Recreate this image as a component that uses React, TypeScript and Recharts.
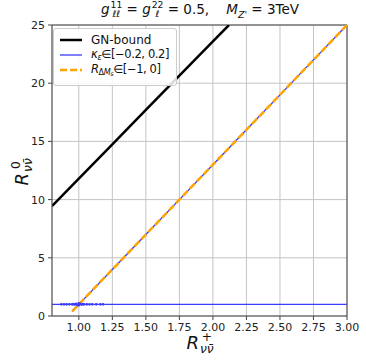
import React from "react";
import {
  ComposedChart,
  Line,
  Scatter,
  XAxis,
  YAxis,
  CartesianGrid,
  ReferenceLine,
} from "recharts";

// GN-bound (black)
const gnX = [0.8, 1.0, 1.25, 1.5, 1.75, 2.0, 2.12];
const gnY = [9.45, 11.8, 14.75, 17.7, 20.65, 23.6, 25.0];

// kappa_eps scan: diagonal branch and flat branch at R0 = 1
const kapDiagX = [0.95, 1.0, 1.25, 1.5, 1.75, 2.0, 2.25, 2.5, 2.75, 3.0];
const kapDiagY = [0.4, 1.0, 4.0, 7.0, 10.0, 13.0, 16.0, 19.0, 22.0, 25.0];
const kapFlatX = [0.8, 3.0];
const kapFlatY = [1.0, 1.0];

// scattered kappa points near (1, 1)
const dotX = [0.87, 0.89, 0.91, 0.93, 0.95, 0.96, 0.97, 0.98, 0.99, 1.0, 1.0, 1.01, 1.02, 1.03, 1.04, 1.06, 1.08, 1.1, 1.13, 1.16, 1.18];
const dotY = [1.0, 1.0, 1.0, 1.0, 1.0, 1.02, 0.98, 1.05, 0.95, 1.1, 0.92, 1.05, 0.98, 1.02, 1.0, 1.0, 1.0, 1.0, 1.0, 1.0, 1.0];

// R_DeltaMs scan (orange dashed)
const rdmX = [0.95, 1.0, 1.5, 2.0, 2.5, 3.0];
const rdmY = [0.4, 1.0, 7.0, 13.0, 19.0, 25.0];

const xTicks = [1.0, 1.25, 1.5, 1.75, 2.0, 2.25, 2.5, 2.75, 3.0];
const yTicks = [0, 5, 10, 15, 20, 25];

const zip = (xs: number[], ys: number[]) => xs.map((x, i) => ({ x, y: ys[i] }));

const FONT = "'DejaVu Sans', sans-serif";
const BLUE = "#3b3bff";
const ORANGE = "#ffa500";

const Stack = ({ sup, sub }: { sup: string; sub: string }) => (
  <span
    style={{
      display: "inline-flex",
      flexDirection: "column",
      fontSize: "0.68em",
      lineHeight: 0.95,
      verticalAlign: "middle",
      fontStyle: "normal",
      marginLeft: 1,
    }}
  >
    <span>{sup}</span>
    <span style={{ fontStyle: "italic" }}>{sub}</span>
  </span>
);

function LegendBox() {
  const row = (sample: React.ReactNode, label: React.ReactNode) => (
    <div style={{ display: "flex", alignItems: "center", height: 15.3, whiteSpace: "nowrap" }}>
      <svg width={24} height={6} style={{ marginRight: 7, flex: "none" }}>{sample}</svg>
      <span style={{ lineHeight: 1 }}>{label}</span>
    </div>
  );
  return (
    <div
      style={{
        position: "absolute",
        left: 53,
        top: 28,
        width: 116,
        height: 48,
        padding: "3px 0 5px 6px",
        border: "1px solid #cccccc",
        borderRadius: 3,
        background: "rgba(255,255,255,0.85)",
        fontFamily: FONT,
        fontSize: 12,
        color: "#111",
      }}
    >
      {row(<line x1={0} x2={22} y1={3} y2={3} stroke="#000" strokeWidth={2.5} />, "GN-bound")}
      {row(
        <line x1={0} x2={22} y1={3} y2={3} stroke={BLUE} strokeWidth={1.3} />,
        <span style={{ fontSize: 11.5, letterSpacing: -0.4 }}>
          <i>κ</i>
          <sub style={{ fontSize: "0.7em", verticalAlign: "-0.2em" }}><i>ε</i></sub>∈[−0.2, 0.2]
        </span>
      )}
      {row(
        <line x1={0} x2={22} y1={3} y2={3} stroke={ORANGE} strokeWidth={2.5} strokeDasharray="7 3" />,
        <span style={{ fontSize: 11.5, letterSpacing: -0.4 }}>
          <i>R</i>
          <sub style={{ fontSize: "0.7em", verticalAlign: "-0.2em" }}>
            Δ<i>M</i>
            <sub style={{ fontSize: "0.8em", verticalAlign: "-0.2em" }}><i>s</i></sub>
          </sub>
          ∈[−1, 0]
        </span>
      )}
    </div>
  );
}

export default function App() {
  return (
    <div style={{ position: "absolute", left: 0, top: 0, width: 366, height: 364, background: "#fff" }}>
      <ComposedChart width={366} height={364} margin={{ top: 25, right: 19, bottom: 0, left: 12 }}>
        <CartesianGrid stroke="#c4c4c4" strokeWidth={1} />
        <XAxis
          dataKey="x"
          type="number"
          domain={[0.8, 3.0]}
          ticks={xTicks}
          tickFormatter={(v: number) => v.toFixed(2)}
          allowDataOverflow
          height={48}
          tickSize={4}
          tickMargin={3}
          stroke="#444"
          tick={{ fill: "#222", fontSize: 11, fontFamily: FONT }}
        />
        <YAxis
          dataKey="y"
          type="number"
          domain={[0, 25]}
          ticks={yTicks}
          allowDataOverflow
          width={40}
          tickSize={4}
          tickMargin={3}
          stroke="#444"
          tick={{ fill: "#222", fontSize: 11, fontFamily: FONT }}
        />
        <ReferenceLine x={3.0} stroke="#444" strokeWidth={1} />
        <ReferenceLine y={25} stroke="#444" strokeWidth={1} />
        <Line data={zip(gnX, gnY)} dataKey="y" stroke="#000" strokeWidth={2.5} dot={false} isAnimationActive={false} />
        <Line data={zip(kapFlatX, kapFlatY)} dataKey="y" stroke={BLUE} strokeWidth={1.3} dot={false} isAnimationActive={false} />
        <Line data={zip(kapDiagX, kapDiagY)} dataKey="y" stroke={BLUE} strokeWidth={1.3} dot={false} isAnimationActive={false} />
        <Scatter
          data={zip(dotX, dotY)}
          dataKey="y"
          fill={BLUE}
          isAnimationActive={false}
          shape={(p: any) => <circle cx={p.cx} cy={p.cy} r={1.3} fill={BLUE} />}
        />
        <Line
          data={zip(rdmX, rdmY)}
          dataKey="y"
          stroke={ORANGE}
          strokeWidth={2.5}
          strokeDasharray="7 3"
          dot={false}
          isAnimationActive={false}
        />
      </ComposedChart>

      <LegendBox />

      {/* title */}
      <div
        style={{
          position: "absolute",
          left: 60,
          width: 280,
          top: 1,
          textAlign: "center",
          fontFamily: FONT,
          fontSize: 13.5,
          color: "#111",
          whiteSpace: "nowrap",
        }}
      >
        <i>g</i>
        <Stack sup="11" sub="ℓℓ" /> = <i>g</i>
        <Stack sup="22" sub="ℓ" /> = 0.5,&nbsp;&nbsp;&nbsp;&nbsp;<i>M</i>
        <sub style={{ fontSize: "0.7em" }}><i>Z'</i></sub> = 3TeV
      </div>

      {/* x label */}
      <div
        style={{
          position: "absolute",
          left: 150,
          width: 100,
          top: 332,
          textAlign: "center",
          fontFamily: FONT,
          fontSize: 18,
          color: "#111",
        }}
      >
        <i>R</i>
        <Stack sup="+" sub="νν̄" />
      </div>

      {/* y label */}
      <div
        style={{
          position: "absolute",
          left: -27,
          top: 160,
          width: 100,
          textAlign: "center",
          fontFamily: FONT,
          fontSize: 18,
          color: "#111",
          transform: "rotate(-90deg)",
        }}
      >
        <i>R</i>
        <Stack sup="0" sub="νν̄" />
      </div>
    </div>
  );
}
